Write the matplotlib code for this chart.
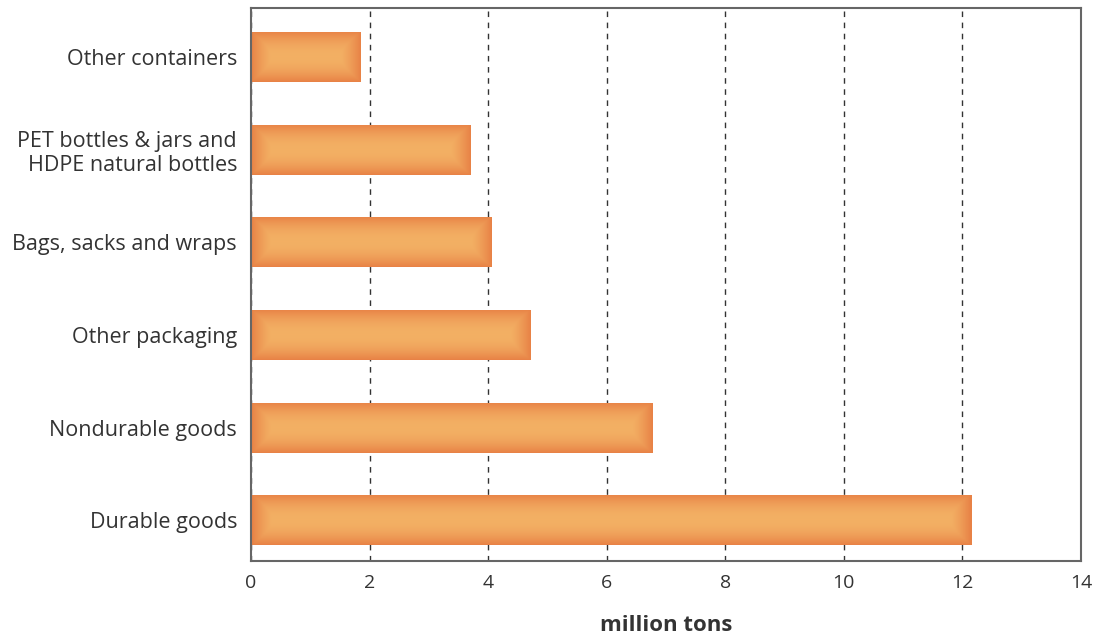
import numpy as np
import matplotlib
matplotlib.use("Agg")
import matplotlib.pyplot as plt
from matplotlib.patches import Rectangle

categories = ['Durable goods', 'Nondurable goods', 'Other packaging',
              'Bags, sacks and wraps', 'PET bottles & jars and\nHDPE natural bottles',
              'Other containers']
values = [12.15, 6.78, 4.72, 4.05, 3.71, 1.85]
xticks = [0, 2, 4, 6, 8, 10, 12, 14]

plt.rcParams['font.family'] = ['Open Sans', 'DejaVu Sans']

fig = plt.figure(figsize=(10.98, 6.4), dpi=100)
ax = fig.add_axes([251 / 1098, 1 - 561 / 640, (1081 - 251) / 1098, (561 - 8) / 640])

# soft glow gradient for the bars: light centre, darker orange edges
ny, nx = 60, 300
yy = np.linspace(-1, 1, ny)[:, None]
xx = np.linspace(-1, 1, nx)[None, :]
light = np.array([0.953, 0.690, 0.392])
dark = np.array([0.910, 0.510, 0.275])

ypos = np.arange(len(categories))
h = 0.54
for y, v in zip(ypos, values):
    w = 0.7 / max(v, 1)
    ex = np.clip((np.abs(xx) - 1 + w) / w, 0, 1)
    ey = np.abs(yy) ** 2.0
    t = np.clip(np.maximum(ey, ex ** 1.3), 0, 1)
    img = light[None, None, :] * (1 - t[..., None]) + dark[None, None, :] * t[..., None]
    im = ax.imshow(img, extent=[0, v, y - h / 2, y + h / 2], aspect='auto',
                   origin='lower', zorder=2, interpolation='bilinear')
    clip = Rectangle((0, y - h / 2), v, h, transform=ax.transData)
    im.set_clip_path(clip)

ax.set_xlim(0, 14)
ax.set_ylim(-0.44, 5.53)
ax.set_xticks(xticks)
ax.set_xticklabels([str(t) for t in xticks], fontsize=14, color='#333333')
ax.set_yticks(ypos)
ax.set_yticklabels(categories, fontsize=15.5, color='#333333', linespacing=1.2)
ax.tick_params(length=0)
ax.tick_params(axis='x', pad=9)
ax.tick_params(axis='y', pad=10)
for t in ax.get_yticklabels():
    t.set_horizontalalignment('right')
    t.set_multialignment('right')

ax.grid(axis='x', linestyle=(0, (4, 4)), color='#333333', linewidth=1.0, zorder=1)
ax.set_axisbelow(True)
for s in ax.spines.values():
    s.set_color('#666666')
    s.set_linewidth(1.5)

ax.set_xlabel('million tons', fontsize=16, fontweight='bold', color='#333333', labelpad=17)

fig.savefig('out.png', dpi=100)
